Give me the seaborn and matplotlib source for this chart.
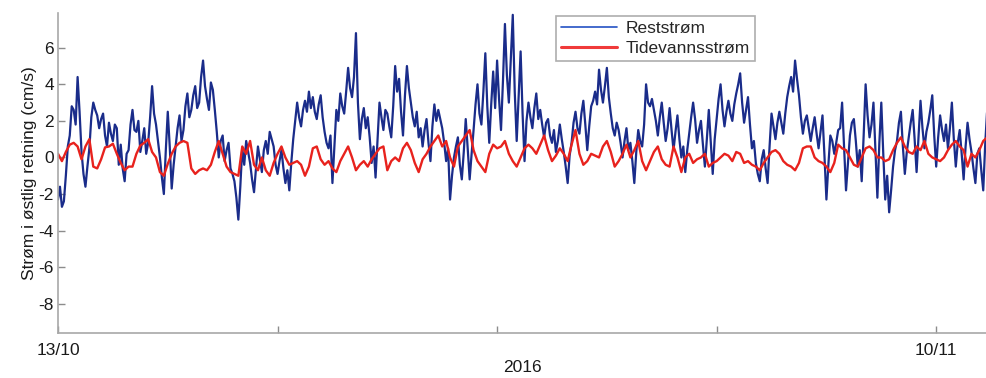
import numpy as np
import pandas as pd
import matplotlib
matplotlib.use("Agg")
import matplotlib.pyplot as plt
import seaborn as sns

# Series start and sampling intervals
start_time = "2016-10-13 00:00"
rest_step = "90min"
tide_step = "3h"

# Residual current, east component (cm/s), one row per day (1.5-hourly)
reststrom = [
    -2.3, -1.6, -2.7, -2.4, -1.0, 0.6, 1.2, 2.8, 2.6, 1.8, 4.4, 2.5, 0.3, -0.9, -1.6, -0.5,
    0.5, 2.2, 3.0, 2.6, 2.3, 1.6, 2.1, 2.4, 1.2, 0.6, 1.9, 1.3, 0.9, 1.8, 1.6, -0.4,
    0.7, -0.6, -1.3, 0.2, 0.4, 1.8, 2.6, 1.5, 1.4, 2.0, 0.3, 0.9, 1.6, 0.2, 0.8, 2.2,
    3.9, 2.4, 1.8, 0.9, 0.0, -1.1, -2.0, 0.4, 2.5, 0.6, -1.7, -0.4, 0.6, 1.6, 2.3, 0.9,
    1.5, 2.8, 3.5, 2.2, 2.6, 3.4, 3.9, 2.7, 3.0, 4.4, 5.3, 3.9, 3.2, 2.6, 4.1, 3.7,
    2.6, 1.4, 0.0, 0.9, 1.2, -0.2, 0.4, 0.8, -0.6, -0.9, -1.3, -2.2, -3.4, -1.6, 0.5, -0.4,
    0.9, 0.3, -0.3, -1.2, -1.9, -0.6, 0.6, -0.1, -0.8, 0.4, 0.9, 0.2, 1.4, 1.0, 0.6, -0.4,
    -0.9, -0.2, 0.4, -0.6, -1.4, -0.7, -1.8, -0.3, 1.0, 2.0, 3.0, 2.2, 1.7, 2.6, 3.1, 2.5,
    3.6, 2.7, 3.3, 2.5, 2.1, 2.9, 3.4, 2.2, 1.4, 0.8, 0.5, 1.2, -1.4, 0.6, 2.6, 2.0,
    3.5, 2.8, 2.4, 3.6, 4.9, 3.8, 3.3, 4.4, 6.8, 3.0, 1.0, 2.1, 2.7, 1.6, 2.2, 1.1,
    -0.3, 0.6, -1.1, 0.9, 3.0, 2.2, 1.5, 2.6, 2.4, 1.7, 1.1, 2.8, 5.0, 3.6, 4.3, 2.5,
    1.2, 3.4, 5.0, 3.8, 3.0, 2.2, 1.7, 2.5, 1.1, 1.6, 0.6, 1.5, 2.1, 0.8, -0.2, 1.7,
    2.9, 2.0, 2.6, 2.1, 1.6, 0.8, -0.2, 0.5, -2.3, -1.0, 0.0, 0.6, 1.1, -0.4, -1.2, 0.3,
    2.1, 0.5, -1.2, 0.2, 1.5, 2.9, 4.0, 2.4, 1.8, 3.6, 5.7, 2.8, 0.8, 2.9, 4.7, 2.7,
    5.3, 3.2, 1.5, 4.2, 7.3, 4.5, 3.0, 5.4, 7.8, 3.6, 0.9, 3.4, 5.8, 2.4, -0.2, 2.0,
    3.0, 2.2, 1.6, 2.7, 3.5, 2.1, 2.6, 1.8, 1.1, 1.9, 2.1, 1.2, 0.8, 1.5, 0.3, 0.9,
    1.8, 1.0, 0.3, -0.5, -1.4, 0.1, 0.8, 1.9, 2.5, 1.6, 1.3, 2.4, 3.1, 1.8, 0.4, 1.7,
    2.8, 3.1, 3.6, 2.9, 4.8, 3.7, 3.0, 3.9, 4.9, 3.3, 2.4, 1.6, 1.2, 1.9, 1.5, 0.8,
    0.0, 0.9, 1.6, 0.4, 0.8, -0.2, -1.4, 0.3, 1.5, 0.9, 0.6, 1.8, 4.0, 3.0, 2.8, 3.2,
    2.6, 2.0, 1.2, 2.2, 3.0, 1.9, 0.9, 1.6, 2.7, 1.5, 0.4, 1.4, 2.3, 1.0, 0.0, 0.6,
    -0.8, 0.4, 1.3, 2.2, 3.0, 2.1, 0.8, 1.5, 2.0, 0.7, -0.5, 1.0, 2.6, 0.8, -0.9, 1.0,
    2.1, 3.2, 4.0, 2.6, 1.7, 2.5, 3.1, 2.4, 2.0, 2.9, 3.5, 4.0, 4.6, 3.0, 1.9, 2.6,
    3.3, 1.8, 0.5, 0.9, -0.3, -0.9, -1.3, -0.1, 0.4, -0.6, -1.4, 0.6, 2.4, 1.7, 1.0, 1.9,
    2.5, 1.9, 1.3, 2.4, 3.3, 3.9, 4.4, 3.6, 5.3, 4.3, 3.4, 2.2, 1.3, 2.0, 2.3, 1.6,
    0.9, 1.6, 2.2, 1.3, 0.5, 1.4, 2.3, 0.1, -2.3, -0.4, 1.2, 0.9, 0.2, 0.8, 1.5, 1.6,
    3.0, 0.6, -1.8, -0.3, 1.2, 1.9, 2.1, 0.9, -0.5, 0.4, -1.3, 1.2, 4.0, 2.3, 1.1, 1.8,
    3.0, 0.4, -2.2, 0.8, 3.0, 0.2, -2.3, -1.0, -3.0, -1.8, -0.5, 0.4, 0.9, 1.9, 2.5, 0.6,
    -0.9, 0.3, 1.1, 1.9, 2.6, 1.0, -0.8, 1.2, 3.1, 1.6, 0.5, 1.4, 1.9, 2.6, 3.4, 1.2,
    -0.5, 1.1, 2.3, 1.5, 0.9, 1.8, 0.5, 1.6, 3.0, 1.0, -0.5, 0.8, 1.5, 0.2, -1.2, 0.6,
    1.9, 1.0, 0.3, -0.6, -1.4, 0.2, 0.5, -0.7, -1.8, 0.7, 2.6, 1.5,
]

# Tidal current, east component (cm/s), one row per day (3-hourly)
tidevannsstrom = [
    0.2, -0.2, 0.3, 0.7, 0.8, 0.6, -0.1, 0.6,
    1.0, -0.5, -0.6, -0.1, 0.55, 0.6, 0.75, 0.2,
    -0.3, -0.7, -0.5, -0.5, 0.2, 0.65, 0.8, 1.0,
    0.3, 0.0, -0.8, -1.0, -0.35, 0.2, 0.6, 0.8,
    0.9, 0.8, -0.6, -0.9, -0.7, -0.6, -0.7, -0.4,
    0.3, 0.9, 0.2, -0.5, -0.8, -0.9, -1.0, 0.6,
    0.2, 0.9, -0.4, -0.7, 0.0, -0.7, -1.0, -0.3,
    0.2, 0.6, 0.0, -0.4, -0.3, -0.2, -0.4, -1.0,
    -0.5, 0.5, 0.6, -0.1, -0.4, -0.2, -0.6, -0.8,
    -0.2, 0.2, 0.6, 0.0, -0.7, -0.4, -0.2, -0.5,
    -0.1, 0.2, 0.5, 0.6, -0.7, -0.2, 0.0, -0.2,
    0.5, 0.8, 0.4, -0.3, -0.8, -0.1, 0.2, 0.6,
    0.9, 1.2, 0.6, 0.9, 0.0, -0.5, 0.6, 0.9,
    1.2, 1.5, 0.4, -0.2, -0.5, -0.8, 0.2, 0.7,
    0.5, 0.6, 0.9, 0.2, -0.2, -0.5, 0.0, 0.5,
    0.7, 0.5, 0.2, 0.7, 1.2, 0.4, -0.2, 0.1,
    0.5, 0.2, -0.2, 0.7, 1.5, 0.2, -0.4, -0.2,
    0.2, 0.1, 0.0, 0.6, 0.9, 0.3, -0.5, -0.2,
    0.2, 0.7, 0.0, 0.4, 0.9, -0.2, -0.7, -0.2,
    0.3, 0.6, -0.1, -0.4, -0.5, 0.6, 0.0, -0.8,
    0.0, 0.2, -0.3, -0.1, 0.0, 0.2, -0.5, -0.3,
    -0.2, 0.0, 0.2, 0.1, -0.2, 0.3, 0.2, -0.3,
    -0.2, -0.4, -0.5, -0.7, -0.3, 0.0, 0.3, 0.4,
    0.2, -0.2, -0.4, -0.5, -0.7, -0.3, 0.5, 0.6,
    0.6, 0.0, -0.2, -0.3, -0.5, -0.8, -0.3, 0.7,
    0.5, 0.4, 0.0, -0.4, -0.5, 0.0, 0.5, 0.6,
    0.4, 0.0, 0.0, -0.2, -0.1, 0.4, 0.8, 1.1,
    0.6, 0.3, 0.2, 0.6, 0.4, 0.9, 0.2, 0.0,
    -0.1, -0.2, 0.0, 0.4, 0.7, 0.9, 0.6, 0.4,
    -0.5, 0.2, 0.0, 0.4, 0.9, 1.1,
]

series_names = ["Reststrøm", "Tidevannsstrøm"]
series_colors = ["#1a2c8a", "#e8221d"]

y_ticks = [-8, -6, -4, -2, 0, 2, 4, 6]
x_tick_dates = ["2016-10-13", "2016-10-20", "2016-10-27", "2016-11-03", "2016-11-10"]
x_tick_labels = ["13/10", "", "", "", "10/11"]

sns.set_theme(style="white")
plt.rcParams["font.family"] = ["Liberation Sans", "DejaVu Sans"]

rest_df = pd.DataFrame({
    "Tid": pd.date_range(start_time, periods=len(reststrom), freq=rest_step),
    "Strøm": reststrom,
    "Serie": series_names[0],
})
tide_df = pd.DataFrame({
    "Tid": pd.date_range(start_time, periods=len(tidevannsstrom), freq=tide_step),
    "Strøm": tidevannsstrom,
    "Serie": series_names[1],
})
df = pd.concat([rest_df, tide_df], ignore_index=True)

fig = plt.figure(figsize=(9.87, 3.78), dpi=100)
ax = fig.add_axes([58 / 987, 45 / 378, 1 - 58 / 987, 320 / 378])

sns.lineplot(data=df[df["Serie"] == series_names[0]], x="Tid", y="Strøm",
             color=series_colors[0], linewidth=1.6, ax=ax, label=series_names[0])
sns.lineplot(data=df[df["Serie"] == series_names[1]], x="Tid", y="Strøm",
             color=series_colors[1], linewidth=1.7, ax=ax, label=series_names[1])

t0 = pd.Timestamp(start_time)
ax.set_xlim(t0, t0 + pd.Timedelta(days=29.62))
ax.set_ylim(-9.6, 7.9)

ax.set_xticks(pd.to_datetime(x_tick_dates))
ax.set_xticklabels(x_tick_labels)
ax.set_yticks(y_ticks)
ax.set_yticklabels([str(v) for v in y_ticks])

ax.tick_params(axis="both", direction="in", length=5, width=1, color="#8c8c8c",
               labelsize=12.5, labelcolor="#1a1a1a")
ax.tick_params(axis="y", pad=3)
ax.tick_params(axis="x", pad=7)
ax.tick_params(left=True, bottom=True)

for side in ["top", "right"]:
    ax.spines[side].set_visible(False)
for side in ["left", "bottom"]:
    ax.spines[side].set_color("#a8a8a8")
    ax.spines[side].set_linewidth(1.2)

ax.set_xlabel("2016", fontsize=12.5, color="#1a1a1a", labelpad=2)
ax.set_ylabel("Strøm i østlig retning (cm/s)", fontsize=12.5, color="#1a1a1a", labelpad=1)

leg = ax.legend(loc="upper left", bbox_to_anchor=(556 / 987, 1 - 16 / 378),
                bbox_transform=fig.transFigure, fontsize=12.5, frameon=True,
                fancybox=False, handlelength=3.2, handletextpad=0.5,
                borderpad=0.3, labelspacing=0.25, borderaxespad=0)
leg.get_frame().set_edgecolor("#9a9a9a")
leg.get_frame().set_linewidth(1.2)
leg.get_lines()[0].set_linewidth(1.2)
leg.get_lines()[0].set_color("#2452c4")
leg.get_lines()[1].set_linewidth(2.2)
leg.get_lines()[1].set_color("#f03a3a")

fig.savefig("out.png", dpi=100)
